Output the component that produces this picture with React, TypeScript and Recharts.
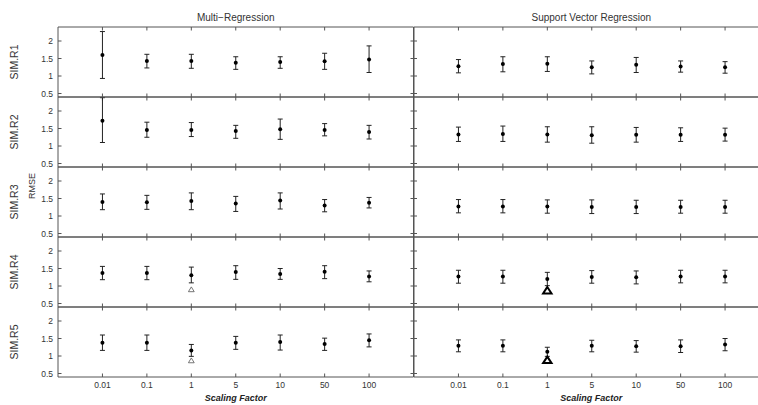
import { ScatterChart, Scatter, XAxis, YAxis, ErrorBar } from 'recharts';

// Scaling factors on the x axis, one slot each (slot 0 and 8 are empty margins)
const factors = ['0.01', '0.1', '1', '5', '10', '50', '100'];
const rowNames = ['SIM.R1', 'SIM.R2', 'SIM.R3', 'SIM.R4', 'SIM.R5'];
const yTicks = [0.5, 1, 1.5, 2];
const xTicks = [1, 2, 3, 4, 5, 6, 7];

// Multi-Regression: mean RMSE and error-bar ends per row
const mrMean = [
  [1.6, 1.43, 1.43, 1.38, 1.4, 1.42, 1.47],
  [1.72, 1.46, 1.46, 1.43, 1.48, 1.46, 1.4],
  [1.4, 1.39, 1.43, 1.36, 1.44, 1.3, 1.38],
  [1.37, 1.37, 1.31, 1.4, 1.34, 1.41, 1.27],
  [1.38, 1.38, 1.16, 1.38, 1.4, 1.34, 1.45],
];
const mrLow = [
  [0.93, 1.23, 1.22, 1.19, 1.22, 1.19, 1.1],
  [1.1, 1.25, 1.27, 1.22, 1.19, 1.29, 1.2],
  [1.18, 1.19, 1.18, 1.13, 1.2, 1.12, 1.23],
  [1.18, 1.18, 1.09, 1.19, 1.19, 1.21, 1.12],
  [1.16, 1.16, 0.99, 1.19, 1.17, 1.16, 1.26],
];
const mrHigh = [
  [2.27, 1.62, 1.62, 1.55, 1.55, 1.65, 1.86],
  [2.38, 1.68, 1.67, 1.59, 1.77, 1.64, 1.59],
  [1.63, 1.59, 1.66, 1.56, 1.66, 1.47, 1.53],
  [1.56, 1.56, 1.54, 1.58, 1.5, 1.58, 1.43],
  [1.6, 1.6, 1.33, 1.56, 1.6, 1.51, 1.63],
];
const mrMarker = [null, null, null, 0.9, 0.87];

// Support Vector Regression
const svrMean = [
  [1.28, 1.34, 1.35, 1.25, 1.32, 1.27, 1.25],
  [1.33, 1.34, 1.33, 1.31, 1.32, 1.32, 1.32],
  [1.27, 1.27, 1.27, 1.26, 1.26, 1.26, 1.26],
  [1.27, 1.27, 1.2, 1.26, 1.25, 1.27, 1.27],
  [1.29, 1.29, 1.12, 1.29, 1.28, 1.28, 1.33],
];
const svrLow = [
  [1.09, 1.12, 1.13, 1.06, 1.1, 1.11, 1.08],
  [1.13, 1.13, 1.11, 1.08, 1.11, 1.13, 1.14],
  [1.09, 1.09, 1.08, 1.07, 1.07, 1.08, 1.08],
  [1.08, 1.08, 1.01, 1.08, 1.06, 1.09, 1.09],
  [1.12, 1.12, 0.99, 1.12, 1.11, 1.1, 1.15],
];
const svrHigh = [
  [1.47, 1.55, 1.55, 1.43, 1.53, 1.43, 1.41],
  [1.54, 1.57, 1.55, 1.55, 1.53, 1.52, 1.51],
  [1.47, 1.47, 1.46, 1.46, 1.45, 1.45, 1.45],
  [1.45, 1.45, 1.39, 1.44, 1.43, 1.45, 1.45],
  [1.46, 1.46, 1.25, 1.45, 1.44, 1.46, 1.5],
];
const svrMarker = [null, null, null, 0.87, 0.88];

const FONT = '"Liberation Sans", Arial, Helvetica, sans-serif';
const AXIS = '#555';
const TEXT = '#333';
const LEFT = 58; // left edge of the first column's plot area
const TOP = 27;
const PW = 355.5;
const PH = 70;
const LAB_H = 30;
const EDGE = 4; // room for the outward tick marks that poke into the neighbour panel
const TICK = 3.5;

const dot = (p: any) => <circle cx={p.cx} cy={p.cy} r={2} fill="#000" />;
const nothing = () => <g />;
const blank = () => '';
const smallTri = (p: any) => (
  <path
    d={`M${p.cx},${p.cy - 2.6} L${p.cx + 2.9},${p.cy + 2.2} L${p.cx - 2.9},${p.cy + 2.2} Z`}
    fill="#fff"
    stroke="#666"
    strokeWidth={0.9}
  />
);
const boldTri = (p: any) => (
  <path
    d={`M${p.cx},${p.cy - 3.6} L${p.cx + 4.2},${p.cy + 2.9} L${p.cx - 4.2},${p.cy + 2.9} Z`}
    fill="#fff"
    stroke="#000"
    strokeWidth={2}
  />
);

function Panel({ row, col }: { row: number; col: number }) {
  const mean = col === 0 ? mrMean[row] : svrMean[row];
  const low = col === 0 ? mrLow[row] : svrLow[row];
  const high = col === 0 ? mrHigh[row] : svrHigh[row];
  const marker = col === 0 ? mrMarker[row] : svrMarker[row];
  const data = factors.map((_, i) => ({ x: i + 1, y: mean[i], err: [mean[i] - low[i], high[i] - mean[i]] }));
  const first = row === 0;
  const bottom = row === rowNames.length - 1;
  const leftW = col === 0 ? LEFT : EDGE;
  const bottomH = bottom ? LAB_H : EDGE;
  const plotLeft = col === 0 ? LEFT : LEFT + PW;
  const plotTop = TOP + row * PH;

  // outer edges of the grid get inward ticks (negative size), inner edges poke into the neighbour
  return (
    <div style={{ position: 'absolute', left: plotLeft - leftW, top: plotTop - EDGE }}>
      <ScatterChart
        width={leftW + PW + EDGE}
        height={EDGE + PH + bottomH}
        margin={{ top: 0, right: 0, bottom: 0, left: 0 }}
      >
        <XAxis
          xAxisId="b"
          type="number"
          dataKey="x"
          domain={[0, 8]}
          ticks={xTicks}
          interval={0}
          orientation="bottom"
          height={bottomH}
          tickSize={bottom ? -TICK : TICK}
          tickMargin={bottom ? 4.5 + TICK : 1}
          stroke={AXIS}
          tickFormatter={bottom ? (v: number) => factors[v - 1] : blank}
          tick={{ fontSize: 8.5, fill: TEXT, stroke: 'none' }}
        />
        <XAxis
          xAxisId="t"
          type="number"
          dataKey="x"
          domain={[0, 8]}
          ticks={xTicks}
          interval={0}
          orientation="top"
          height={EDGE}
          tickSize={first ? -TICK : TICK}
          stroke={AXIS}
          tickFormatter={blank}
        />
        <YAxis
          yAxisId="l"
          type="number"
          dataKey="y"
          domain={[0.4, 2.4]}
          ticks={yTicks}
          interval={0}
          orientation="left"
          width={leftW}
          tickSize={col === 0 ? -TICK : TICK}
          tickMargin={col === 0 ? 5 + TICK : 1}
          stroke={AXIS}
          tickFormatter={col === 0 ? undefined : blank}
          tick={{ fontSize: 8.5, fill: TEXT, stroke: 'none' }}
        />
        <YAxis
          yAxisId="r"
          type="number"
          dataKey="y"
          domain={[0.4, 2.4]}
          ticks={yTicks}
          interval={0}
          orientation="right"
          width={EDGE}
          tickSize={TICK}
          stroke={AXIS}
          tickFormatter={blank}
        />
        {/* invisible copy so the top and right frame axes get their ticks */}
        <Scatter xAxisId="t" yAxisId="r" data={data} shape={nothing} isAnimationActive={false} />
        <Scatter xAxisId="b" yAxisId="l" data={data} shape={dot} isAnimationActive={false}>
          <ErrorBar dataKey="err" direction="y" width={2.5} stroke="#222" strokeWidth={1} isAnimationActive={false} />
        </Scatter>
        {marker != null && (
          <Scatter
            xAxisId="b"
            yAxisId="l"
            data={[{ x: 3, y: marker }]}
            shape={col === 0 ? smallTri : boldTri}
            isAnimationActive={false}
          />
        )}
      </ScatterChart>
    </div>
  );
}

const rotated = (text: string, x: number, y: number, size: number) => (
  <div
    key={text}
    style={{
      position: 'absolute',
      left: x,
      top: y,
      transform: 'translate(-50%, -50%) rotate(-90deg)',
      fontSize: size,
      lineHeight: 1,
      whiteSpace: 'nowrap',
      color: TEXT,
    }}
  >
    {text}
  </div>
);

const centered = (text: string, x: number, y: number, style: React.CSSProperties) => (
  <div
    style={{
      position: 'absolute',
      left: x,
      top: y,
      transform: 'translate(-50%, -50%)',
      lineHeight: 1,
      whiteSpace: 'nowrap',
      color: TEXT,
      ...style,
    }}
  >
    {text}
  </div>
);

export default function App() {
  const leftCenter = LEFT + PW / 2;
  const rightCenter = LEFT + PW + PW / 2;
  return (
    <div
      style={{
        position: 'absolute',
        left: 0,
        top: 0,
        width: 758,
        height: 405,
        overflow: 'hidden',
        background: '#fff',
        fontFamily: FONT,
      }}
    >
      {rowNames.map((r, row) => [0, 1].map((col) => <Panel key={r + col} row={row} col={col} />))}
      {centered('Multi\u2212Regression', leftCenter, 18, { fontSize: 10 })}
      {centered('Support Vector Regression', rightCenter, 18, { fontSize: 10 })}
      {rowNames.map((r, i) => rotated(r, 13.5, TOP + i * PH + PH / 2, 10.5))}
      {rotated('RMSE', 31.5, 186, 9)}
      {centered('Scaling Factor', leftCenter, 397.5, { fontSize: 9, fontWeight: 'bold', fontStyle: 'italic', color: '#222' })}
      {centered('Scaling Factor', rightCenter, 397.5, { fontSize: 9, fontWeight: 'bold', fontStyle: 'italic', color: '#222' })}
    </div>
  );
}
